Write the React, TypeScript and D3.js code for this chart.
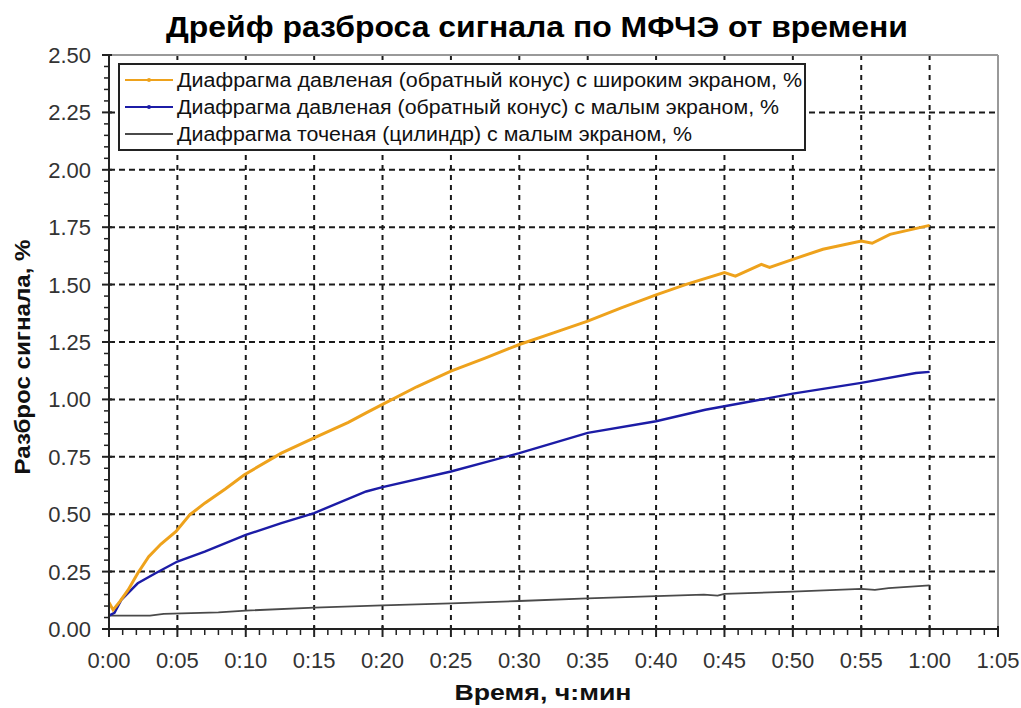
import React from "react";
import * as d3 from "d3";

const W = 1021;
const H = 708;

const titleText = "Дрейф разброса сигнала по МФЧЭ от времени";
const xTitle = "Время, ч:мин";
const yTitle = "Разброс сигнала, %";

const seriesNames = [
  "Диафрагма давленая (обратный конус) с широким экраном, %",
  "Диафрагма давленая (обратный конус) с малым экраном, %",
  "Диафрагма точеная (цилиндр) с малым экраном, %",
];

const xTickLabels = ["0:00", "0:05", "0:10", "0:15", "0:20", "0:25", "0:30", "0:35", "0:40", "0:45", "0:50", "0:55", "1:00", "1:05"];
const yTickLabels = ["0.00", "0.25", "0.50", "0.75", "1.00", "1.25", "1.50", "1.75", "2.00", "2.25", "2.50"];

// minutes / values
const wideTime = [0, 0.3, 0.8, 1.4, 2.1, 2.9, 3.8, 4.9, 5.9, 7.0, 8.5, 9.9, 12.6, 15, 17.5, 18.8, 20, 22.5, 25, 27.5, 30, 32.5, 35, 37.5, 40, 42.2, 45, 45.8, 47.7, 48.3, 50, 52.2, 55, 55.8, 57.1, 60];
const wideVal = [0.115, 0.083, 0.12, 0.17, 0.243, 0.315, 0.37, 0.425, 0.497, 0.548, 0.61, 0.672, 0.766, 0.832, 0.9, 0.941, 0.978, 1.055, 1.123, 1.18, 1.239, 1.29, 1.341, 1.4, 1.455, 1.501, 1.552, 1.537, 1.588, 1.575, 1.61, 1.654, 1.69, 1.68, 1.719, 1.758];

const smallTime = [0, 0.4, 0.9, 2.1, 3.4, 5, 7, 10, 12.6, 15, 18.8, 20, 25, 30, 35, 40, 43.6, 45, 50, 55, 59, 60];
const smallVal = [0.058, 0.07, 0.127, 0.199, 0.243, 0.294, 0.337, 0.41, 0.461, 0.505, 0.599, 0.618, 0.686, 0.766, 0.854, 0.905, 0.955, 0.97, 1.025, 1.072, 1.115, 1.12];

const cylTime = [0, 3, 4, 8, 10, 15, 20, 25, 30, 35, 40, 43.5, 44.5, 45, 50, 55, 56, 57, 60];
const cylVal = [0.058, 0.058, 0.066, 0.072, 0.08, 0.093, 0.103, 0.112, 0.122, 0.133, 0.143, 0.15, 0.145, 0.153, 0.163, 0.175, 0.17, 0.178, 0.19];

const colors = ["#eea21c", "#1c1ca6", "#4a4a4a"];

const L = 109, R = 998, T = 55, B = 629;

export default function App() {
  const x = d3.scaleLinear().domain([0, 65]).range([L, R]);
  const y = d3.scaleLinear().domain([0, 2.5]).range([B, T]);

  const mk = (t: number[], v: number[]) =>
    d3.line<number>().x((_, i) => x(t[i])).y((d) => y(d))(v) || "";

  const majorX = xTickLabels.map((_, i) => i * 5);
  const minorX = d3.range(0, 66, 1).filter((m) => m % 5 !== 0);
  const majorY = yTickLabels.map((_, i) => i * 0.25);
  const minorY = d3.range(0, 51).map((i) => i * 0.05).filter((_, i) => i % 5 !== 0);

  const font = "'Liberation Sans', Arial, sans-serif";

  return (
    <svg width={W} height={H} style={{ position: "absolute", left: 0, top: 0, background: "#fff" }}>
      <rect x={0} y={0} width={W} height={H} fill="#fff" />
      <text x={537} y={37} textAnchor="middle" fontFamily={font} fontWeight="bold" fontSize={29} textLength={742} lengthAdjust="spacingAndGlyphs" fill="#000">
        {titleText}
      </text>

      {/* grid */}
      {majorY.slice(1, -1).map((v) => (
        <line key={"gy" + v} x1={L} x2={R} y1={y(v)} y2={y(v)} stroke="#1a1a1a" strokeWidth={2} strokeDasharray="6,4" />
      ))}
      {majorX.slice(1, -1).map((m) => (
        <line key={"gx" + m} x1={x(m)} x2={x(m)} y1={T} y2={B} stroke="#1a1a1a" strokeWidth={2} strokeDasharray="5,5" />
      ))}

      {/* border */}
      <line x1={L} x2={R} y1={T} y2={T} stroke="#999" strokeWidth={2} />
      <line x1={R} x2={R} y1={T} y2={B} stroke="#999" strokeWidth={2} />

      {/* series */}
      <path d={mk(cylTime, cylVal)} fill="none" stroke={colors[2]} strokeWidth={1.8} />
      <path d={mk(smallTime, smallVal)} fill="none" stroke={colors[1]} strokeWidth={2.4} />
      <path d={mk(wideTime, wideVal)} fill="none" stroke={colors[0]} strokeWidth={3} />

      {/* axes */}
      <line x1={L} x2={L} y1={T} y2={B + 1} stroke="#222" strokeWidth={2} />
      <line x1={L - 1} x2={R} y1={B} y2={B} stroke="#222" strokeWidth={2} />
      {majorY.map((v) => (
        <line key={"ty" + v} x1={L - 7} x2={L + 3} y1={y(v)} y2={y(v)} stroke="#222" strokeWidth={2} />
      ))}
      {minorY.map((v) => (
        <line key={"my" + v} x1={L - 5} x2={L} y1={y(v)} y2={y(v)} stroke="#222" strokeWidth={1.5} />
      ))}
      {majorX.map((m) => (
        <line key={"tx" + m} x1={x(m)} x2={x(m)} y1={B - 3} y2={B + 8} stroke="#222" strokeWidth={2} />
      ))}
      {minorX.map((m) => (
        <line key={"mx" + m} x1={x(m)} x2={x(m)} y1={B} y2={B + 6} stroke="#222" strokeWidth={1.5} />
      ))}

      {/* tick labels */}
      {yTickLabels.map((s, i) => (
        <text key={"ly" + s} x={91} y={y(i * 0.25) + 8} textAnchor="end" fontFamily={font} fontSize={22} fill="#333">
          {s}
        </text>
      ))}
      {xTickLabels.map((s, i) => (
        <text key={"lx" + s} x={x(i * 5)} y={668} textAnchor="middle" fontFamily={font} fontSize={22} fill="#333">
          {s}
        </text>
      ))}

      {/* axis titles */}
      <text x={543} y={700} textAnchor="middle" fontFamily={font} fontWeight="bold" fontSize={22} textLength={177} lengthAdjust="spacingAndGlyphs" fill="#111">
        {xTitle}
      </text>
      <text transform="translate(30,357) rotate(-90)" textAnchor="middle" fontFamily={font} fontWeight="bold" fontSize={22} textLength={235} lengthAdjust="spacingAndGlyphs" fill="#111">
        {yTitle}
      </text>

      {/* legend */}
      <rect x={119} y={64} width={686} height={86} fill="#fff" stroke="#222" strokeWidth={2} />
      {seriesNames.map((n, i) => {
        const yy = 80 + i * 27;
        const widths = [625, 602, 515];
        return (
          <g key={n}>
            <line x1={125} x2={173} y1={yy} y2={yy} stroke={colors[i]} strokeWidth={i === 2 ? 1.8 : 2} />
            {i < 2 && <circle cx={149} cy={yy} r={2} fill={colors[i]} />}
            <text x={177} y={yy + 7} fontFamily={font} fontSize={20} fill="#111" textLength={widths[i]} lengthAdjust="spacingAndGlyphs">
              {n}
            </text>
          </g>
        );
      })}
    </svg>
  );
}
